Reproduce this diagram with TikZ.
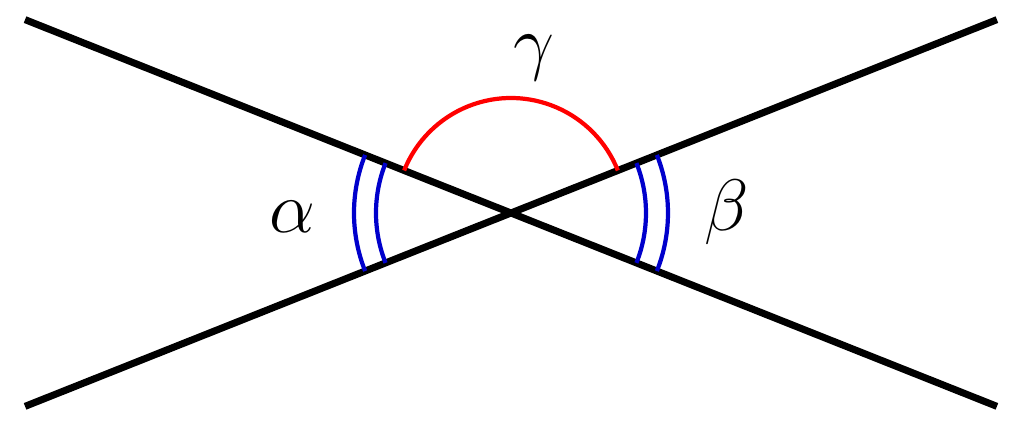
\documentclass[tikz,border=0pt]{standalone}
\usepackage{tikz}
\begin{document}
\begin{tikzpicture}
\useasboundingbox (-5.11,-2.14) rectangle (5.13,2.13);
\coordinate (O) at (0,0);
\draw[line width=2pt] (158.3:5.23)--(-21.7:5.23);
\draw[line width=2pt] (201.7:5.23)--(21.7:5.23);
\draw[red, line width=1.2pt] (21.7:1.15) arc (21.7:158.3:1.15);
\draw[blue!80!black, line width=1.2pt] (158.3:1.35) arc (158.3:201.7:1.35);
\draw[blue!80!black, line width=1.2pt] (158.3:1.57) arc (158.3:201.7:1.57);
\draw[blue!80!black, line width=1.2pt] (-21.7:1.35) arc (-21.7:21.7:1.35);
\draw[blue!80!black, line width=1.2pt] (-21.7:1.57) arc (-21.7:21.7:1.57);
\node[font=\huge] (alpha) at (-2.19,-0.04) {$\alpha$};
\node[font=\huge] (beta) at (2.16,0.01) {$\beta$};
\node[font=\huge] (gamma) at (0.23,1.55) {$\gamma$};
\end{tikzpicture}
\end{document}
